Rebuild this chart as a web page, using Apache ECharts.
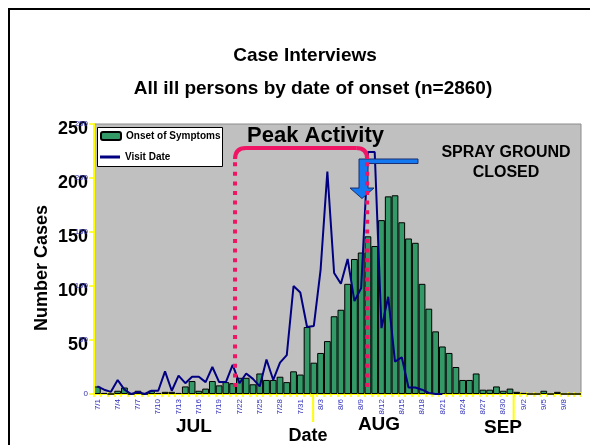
<!DOCTYPE html>
<html><head><meta charset="utf-8">
<script src="https://cdn.jsdelivr.net/npm/echarts@6/dist/echarts.min.js"></script>
<style>html,body{margin:0;padding:0;background:#fff}#c{width:590px;height:445px}</style>
</head><body><div id="c"></div>
<script>
// ---------- data ----------
const dates = [
 '7/1','7/2','7/3','7/4','7/5','7/6','7/7','7/8','7/9','7/10','7/11','7/12','7/13','7/14','7/15','7/16',
 '7/17','7/18','7/19','7/20','7/21','7/22','7/23','7/24','7/25','7/26','7/27','7/28','7/29','7/30','7/31',
 '8/1','8/2','8/3','8/4','8/5','8/6','8/7','8/8','8/9','8/10','8/11','8/12','8/13','8/14','8/15','8/16',
 '8/17','8/18','8/19','8/20','8/21','8/22','8/23','8/24','8/25','8/26','8/27','8/28','8/29','8/30','8/31',
 '9/1','9/2','9/3','9/4','9/5','9/6','9/7','9/8','9/9','9/10'];
const onsetOfSymptoms = [
 7,1,0,3,6,0,3,0,3,1,2,2,1,7,12,3,5,12,8,11,10,15,15,9,19,13,13,16,11,21,18,
 62,29,38,49,72,78,102,125,131,146,137,161,183,184,159,144,140,102,79,58,44,38,25,13,13,19,4,4,7,3,5,
 2,1,0,0,3,0,2,0,0,0];
const visitDate = [
 7,4,2,13,4,0,2,0,3,3,21,3,17,10,16,16,11,25,11,11,27,10,19,14,7,32,13,29,36,100,94,
 62,63,115,206,112,102,125,86,98,224,224,61,90,30,34,6,6,4,1,0,0,
 null,null,null,null,null,null,null,null,null,null,null,null,null,null,null,null,null,null,null,null];
const yTicks = [0,50,100,150,200,250];
const seriesNames = ['Onset of Symptoms','Visit Date'];
const monthLabels = ['JUL','AUG','SEP'];

// ---------- chart ----------
const FONT = '"Liberation Sans", Arial, Helvetica, sans-serif';
const chart = echarts.init(document.getElementById('c'), null, {renderer:'canvas'});
const yMin = yTicks[0], yMax = yTicks[yTicks.length-1], yStep = yTicks[1]-yTicks[0];
const legendText = {fontSize:10, fontWeight:'bold', color:'#000', fontFamily:FONT};

chart.setOption({
  animation:false,
  backgroundColor:'#ffffff',
  grid:{left:94, top:124, width:487, height:270, show:true, backgroundColor:'#c0c0c0',
        borderColor:'#8c8c8c', borderWidth:1, containLabel:false, outerBoundsMode:'none'},
  legend:[
    {orient:'vertical', left:100, top:131, padding:0, itemWidth:20, itemHeight:8, selectedMode:false,
     textStyle:legendText, data:[seriesNames[0]], z:120},
    {orient:'vertical', left:100, top:152, padding:0, itemWidth:20, itemHeight:3, icon:'rect', selectedMode:false,
     textStyle:legendText, data:[seriesNames[1]], z:120}
  ],
  xAxis:[
    {type:'category', data:dates, boundaryGap:true,
     axisLine:{show:true, lineStyle:{color:'#ffff00', width:2}},
     axisTick:{show:true, interval:0, length:3, lineStyle:{color:'#ffff00', width:1.5}},
     axisLabel:{interval:2, rotate:90, fontSize:8, color:'#3333bb', margin:5, fontFamily:FONT},
     splitLine:{show:false}},
    {type:'category', data:dates, position:'bottom', boundaryGap:true,
     axisLine:{show:false},
     axisTick:{show:true, inside:true, interval:0, length:2, lineStyle:{color:'#ffff00', width:1.5}},
     axisLabel:{show:false}, splitLine:{show:false}}
  ],
  yAxis:[
    {type:'value', min:yMin, max:yMax, interval:yStep, z:5,
     axisLine:{show:true, lineStyle:{color:'#ffff00', width:2}},
     axisTick:{show:true, length:5, lineStyle:{color:'#ffff00', width:1.5}},
     axisLabel:{fontSize:8, color:'#3333aa', margin:6, fontFamily:FONT},
     splitLine:{show:false}},
    {type:'value', position:'left', min:yMin, max:yMax, interval:yStep, z:1,
     axisLine:{show:false}, axisTick:{show:false}, splitLine:{show:false},
     axisLabel:{margin:6, formatter:v => v===0 ? '' : '{b|' + v + '}',
                rich:{b:{fontSize:18, fontWeight:'bold', color:'#000', fontFamily:FONT, padding:[11,0,0,0]}}}}
  ],
  series:[
    {name:seriesNames[0], type:'bar', data:onsetOfSymptoms, barCategoryGap:'0%', xAxisIndex:0, yAxisIndex:0,
     itemStyle:{color:'#339966', borderColor:'#000', borderWidth:1}},
    {name:seriesNames[1], type:'line', data:visitDate, symbol:'none', showSymbol:false, xAxisIndex:0, yAxisIndex:0,
     connectNulls:false, lineStyle:{color:'#000080', width:2}, itemStyle:{color:'#000080'}, z:3}
  ]
});

// ---------- annotations (placed through the axes) ----------
(function(){
const c0 = chart.convertToPixel({xAxisIndex:0}, dates[0]);
const c1 = chart.convertToPixel({xAxisIndex:0}, dates[1]);
const step = c1 - c0;
const ex = f => c0 - step/2 + f*step;            // x at fractional category edge
const ey = v => chart.convertToPixel({yAxisIndex:0}, v);
const y0 = ey(0);

const PINK = '#f01464', BLUE = '#1478f0';
const T = (text, x, y, size, extra) => Object.assign({type:'text', z:100, style:{
   text, x, y, fill:'#000', font:'bold '+size+'px '+FONT,
   align:'center', verticalAlign:'middle', textAlign:'center', textVerticalAlign:'middle'}}, extra||{});

const pL = ex(20.85), pR = ex(40.39), pTop = ey(227.8), pBot = ey(6.5), rad = 9;
const g = [];
g.push({type:'rect', z:1, shape:{x:9, y:9, width:700, height:700}, style:{fill:null, stroke:'#000', lineWidth:2}});
// legend box
g.push({type:'rect', z:110, shape:{x:97.5, y:127.5, width:125, height:39}, style:{fill:'#fff', stroke:'#000', lineWidth:1}});
g.push(T('Case Interviews', 305, 56, 19));
g.push(T('All ill persons by date of onset (n=2860)', 313, 89, 19));
g.push({type:'text', z:100, x:42, y:268, rotation:Math.PI/2, style:{text:'Number Cases', x:0, y:0, fill:'#000',
   font:'bold 18px '+FONT, align:'center', verticalAlign:'middle', textAlign:'center', textVerticalAlign:'middle'}});
// month separators
[32.4, 62.04].forEach(f => g.push({type:'line', z:100, shape:{x1:ex(f), y1:y0, x2:ex(f), y2:y0+28},
   style:{stroke:'#ffff00', lineWidth:2}}));
g.push(T(monthLabels[0], 194, 427, 19));
g.push(T(monthLabels[1], 379, 425, 19));
g.push(T(monthLabels[2], 503, 428, 19));
g.push(T('Date', 308, 436, 18));
// spray ground arrow
const arrowPts = [[39.18,217.6],[47.9,217.6],[47.9,213.4],[40.51,213.4],[40.51,190.7],[41.4,190.7],
                  [39.62,181],[37.85,190.7],[39.18,190.7]].map(p => [ex(p[0]), ey(p[1])]);
g.push({type:'polygon', z:101, shape:{points:arrowPts}, style:{fill:BLUE, stroke:'#1b2f6e', lineWidth:1}});
g.push(T('SPRAY GROUND', 506, 153, 16));
g.push(T('CLOSED', 506, 173, 16));
// peak activity bracket
const dashStyle = {stroke:PINK, lineWidth:4, lineDash:[4,5.6], lineCap:'butt'};
g.push({type:'line', z:102, shape:{x1:pL, y1:pBot, x2:pL, y2:pTop+rad+2}, style:dashStyle});
g.push({type:'line', z:102, shape:{x1:pR, y1:pBot, x2:pR, y2:pTop+rad+2}, style:dashStyle});
const solid = {stroke:PINK, lineWidth:4, fill:null};
g.push({type:'bezierCurve', z:102, shape:{x1:pL, y1:pTop+rad+2, cpx1:pL, cpy1:pTop, x2:pL+rad+2, y2:pTop}, style:solid});
g.push({type:'line', z:102, shape:{x1:pL+rad+2, y1:pTop, x2:pR-rad-2, y2:pTop}, style:solid});
g.push({type:'bezierCurve', z:102, shape:{x1:pR-rad-2, y1:pTop, cpx1:pR, cpy1:pTop, x2:pR, y2:pTop+rad+2}, style:solid});
g.push(T('Peak Activity', 315.5, 135.5, 22));

chart.setOption({graphic:g});
})();
</script>
</body></html>
